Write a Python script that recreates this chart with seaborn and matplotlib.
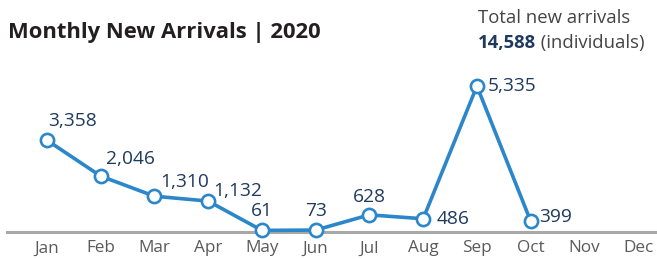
import matplotlib
matplotlib.use("Agg")
import matplotlib.pyplot as plt
import seaborn as sns
import pandas as pd

months = ["Jan", "Feb", "Mar", "Apr", "May", "Jun", "Jul", "Aug", "Sep", "Oct", "Nov", "Dec"]
arrivals = [3358, 2046, 1310, 1132, 61, 73, 628, 486, 5335, 399]
total_label = "14,588"

# label offsets in points (style only)
offsets = [(1, 14), (4, 12), (4, 10), (4, 7), (0, 14), (0, 14), (0, 13), (10, 0), (8, 0), (6, 3)]
aligns = ["left", "left", "left", "left", "center", "center", "center", "left", "left", "left"]

sns.set_style("white")
plt.rcParams["font.family"] = ["Open Sans", "DejaVu Sans"]

BLUE = "#2b87c9"
NAVY = "#1f3a5f"
GRAY = "#5a5a5a"

df = pd.DataFrame({"month": months[:len(arrivals)], "x": range(len(arrivals)), "value": arrivals})

fig = plt.figure(figsize=(6.57, 2.59), dpi=100)
ax = fig.add_axes([0.01, 0.104, 0.99, 0.664])

sns.lineplot(data=df, x="x", y="value", ax=ax, color=BLUE, linewidth=2.6,
             marker="o", markersize=9.5, markerfacecolor="white",
             markeredgecolor=BLUE, markeredgewidth=1.9, zorder=3, clip_on=False)

for (xi, v), (dx, dy), ha in zip(zip(df["x"], df["value"]), offsets, aligns):
    ax.annotate(f"{v:,}", (xi, v), xytext=(dx, dy), textcoords="offset points",
                ha=ha, va="center", fontsize=13.8, color=NAVY)

ax.set_xlim(-0.75, 11.35)
ax.set_ylim(0, 6284)
ax.set_xticks(range(len(months)))
ax.set_xticklabels(months, fontsize=12.3, color=GRAY)
ax.set_yticks([])
ax.set_xlabel("")
ax.set_ylabel("")
for s in ["top", "right", "left"]:
    ax.spines[s].set_visible(False)
ax.spines["bottom"].set_color("#a8a8a8")
ax.spines["bottom"].set_linewidth(2.2)
ax.spines["bottom"].set_zorder(1)
ax.tick_params(axis="x", length=0, pad=6)

fig.text(0.012, 0.875, "Monthly New Arrivals | 2020", fontsize=15.8, fontweight="bold",
         color="#231f20", ha="left", va="center")
fig.text(0.727, 0.93, "Total new arrivals", fontsize=13.3, color="#444444", ha="left", va="center")
t = fig.text(0.727, 0.833, total_label, fontsize=13.3, fontweight="bold", color=NAVY,
             ha="left", va="center")
ax.annotate(" (individuals)", xy=(1, 0.5), xycoords=t, ha="left", va="center",
            fontsize=13.3, color="#444444")

fig.savefig("out.png", dpi=100)
